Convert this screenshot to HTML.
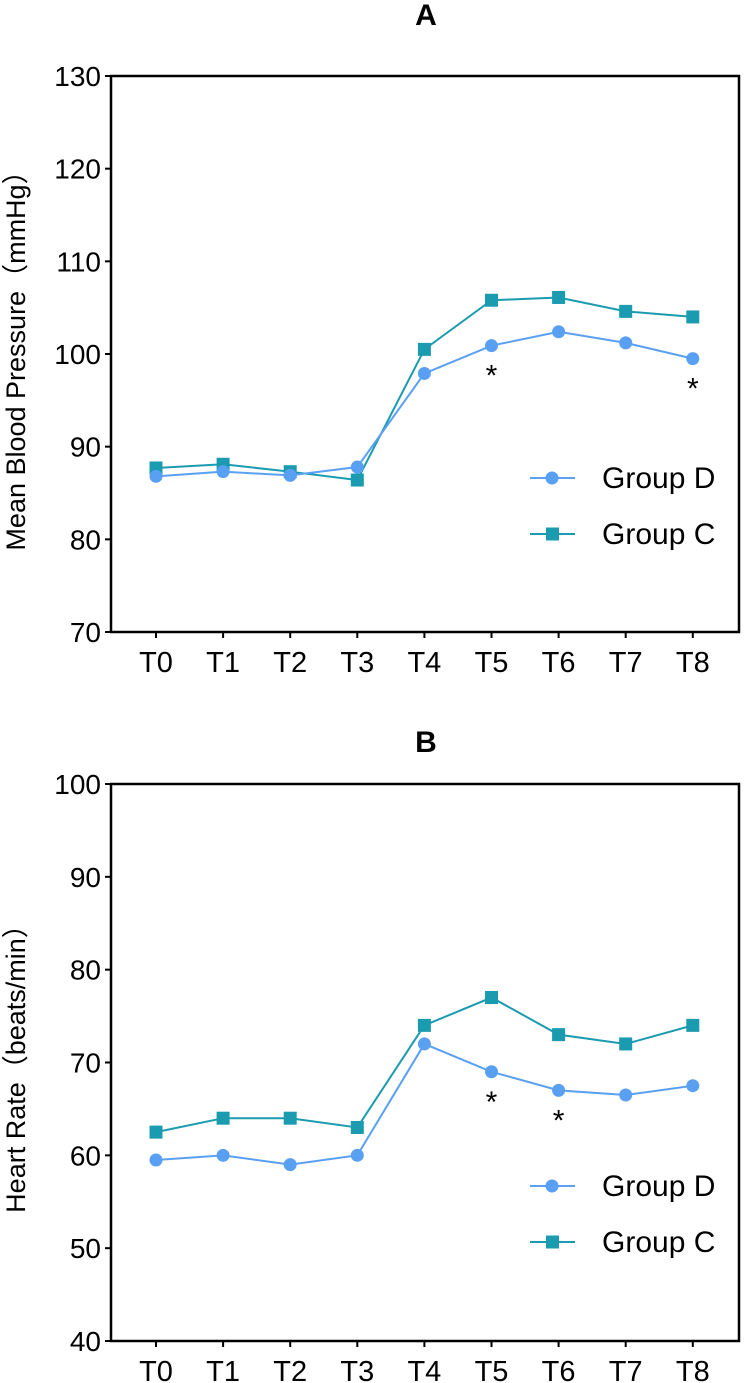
<!DOCTYPE html>
<html><head><meta charset="utf-8"><style>body{margin:0;background:#fff}svg{display:block;font-family:"Liberation Sans","Noto Sans CJK SC",sans-serif}</style></head>
<body>
<svg id="s" width="744" height="1383" xmlns="http://www.w3.org/2000/svg"></svg>
<script>
const categories=["T0","T1","T2","T3","T4","T5","T6","T7","T8"];
const mbpGroupD=[86.8,87.3,86.9,87.8,97.9,100.9,102.4,101.2,99.5];
const mbpGroupC=[87.7,88.1,87.3,86.4,100.5,105.8,106.1,104.6,104.0];
const mbpTicks=[70,80,90,100,110,120,130];
const mbpStars=[5,8];
const hrGroupD=[59.5,60,59,60,72,69,67,66.5,67.5];
const hrGroupC=[62.5,64,64,63,74,77,73,72,74];
const hrTicks=[40,50,60,70,80,90,100];
const hrStars=[5,6];
const NS="http://www.w3.org/2000/svg";
const svg=document.getElementById('s');
function mk(t,a,p){const e=document.createElementNS(NS,t);for(const k in a)e.setAttribute(k,a[k]);(p||svg).appendChild(e);return e;}
function panel(o){
 const g=mk('g',{});
 
 
 const L=111,R=739,T=o.top,B=o.bottom,ymin=o.ticks[0],ymax=o.ticks[o.ticks.length-1];
 const x=i=>156+i*67.1;
 const y=v=>B-(v-ymin)/(ymax-ymin)*(B-T);
 const t=mk('text',{x:426,y:o.titleY,'text-anchor':'middle','font-size':30,'font-weight':'bold'},g);t.textContent=o.title;
 
 const f=mk('path',{d:`M${L},${T}H${R}V${B}H${L}Z`,fill:'none',stroke:'#000','stroke-width':2.5},g);
 
 o.ticks.forEach(v=>{mk('line',{x1:L-6,x2:L,y1:y(v),y2:y(v),stroke:'#000','stroke-width':2},g);
  const l=mk('text',{x:L-10,y:y(v)+10,'text-anchor':'end','font-size':28},g);l.textContent=v;
  });
 categories.forEach((c,i)=>{mk('line',{x1:x(i),x2:x(i),y1:B,y2:B+6,stroke:'#000','stroke-width':2},g);
  const l=mk('text',{x:x(i),y:B+40,'text-anchor':'middle','font-size':29},g);l.textContent=c;
  });
 const yt=mk('text',{transform:`translate(25,${o.ytitleY}) rotate(-90)`,'text-anchor':'middle','font-size':27},g);yt.textContent=o.ytitle;
 
 [[o.c,'#1a9bb0','sq','group-c-series'],[o.d,'#5aa0f2','ci','group-d-series']].forEach(([s,col,m,nm])=>{
  const sg=mk('g',{},g);
  mk('polyline',{points:s.map((v,i)=>x(i)+','+y(v)).join(' '),fill:'none',stroke:col,'stroke-width':2},sg);
  s.forEach((v,i)=>{const e=m=='sq'?mk('rect',{x:x(i)-6.5,y:y(v)-6.5,width:13,height:13,fill:col},sg):mk('circle',{cx:x(i),cy:y(v),r:6.5,fill:col},sg);
   });
 });
 o.stars.forEach(i=>{const v=Math.min(o.d[i],o.c[i]);const s=mk('text',{x:x(i),y:y(v)+40,'text-anchor':'middle','font-size':30},g);s.textContent='*';
  });
 [['Group D','#5aa0f2','ci',o.leg],['Group C','#1a9bb0','sq',o.leg+56]].forEach(([n,col,m,ly])=>{
  const lg=mk('g',{},g);
  mk('line',{x1:530,x2:575,y1:ly,y2:ly,stroke:col,'stroke-width':2},lg);
  if(m=='sq')mk('rect',{x:546,y:ly-6.5,width:13,height:13,fill:col},lg);else mk('circle',{cx:552,cy:ly,r:6.5,fill:col},lg);
  const tx=mk('text',{x:602,y:ly+10,'font-size':30},lg);tx.textContent=n;});
}
panel({name:'panel-a-mbp',title:'A',titleY:25,top:76,bottom:632,ticks:mbpTicks,d:mbpGroupD,c:mbpGroupC,stars:mbpStars,ytitle:'Mean Blood Pressure（mmHg）',ytitleY:354,leg:478});
panel({name:'panel-b-hr',title:'B',titleY:752,top:784,bottom:1341,ticks:hrTicks,d:hrGroupD,c:hrGroupC,stars:hrStars,ytitle:'Heart Rate（beats/min）',ytitleY:1062,leg:1186});
</script>
</body></html>
